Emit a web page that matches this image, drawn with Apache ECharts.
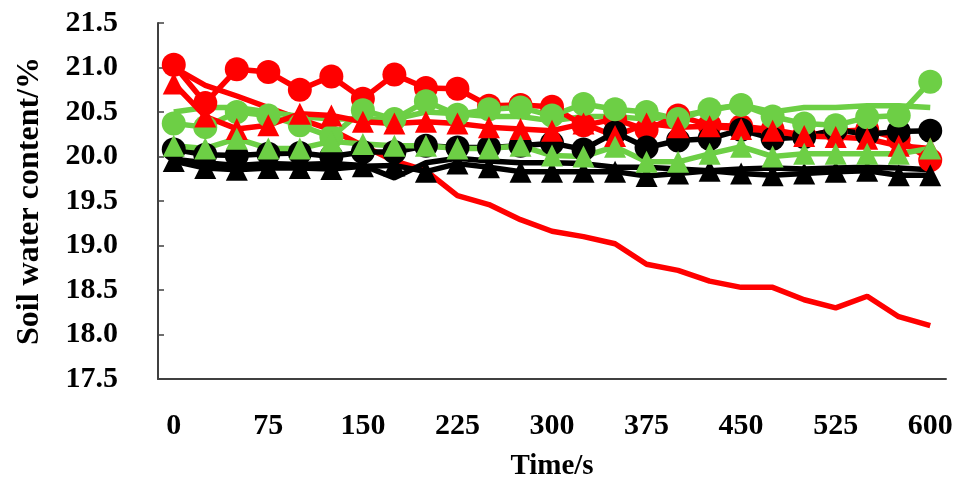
<!DOCTYPE html>
<html>
<head>
<meta charset="utf-8">
<script src="https://cdn.jsdelivr.net/npm/echarts@6/dist/echarts.min.js"></script>
<style>
  html, body { margin: 0; padding: 0; background: #fff; }
  #chart { width: 961px; height: 486px; }
</style>
</head>
<body>
<div id="chart"></div>
<script>
// time points (s)
let times = ['0','25','50','75','100','125','150','175','200','225','250','275','300',
  '325','350','375','400','425','450','475','500','525','550','575','600']

// soil water content (%)
let redCircle = [21.03, 20.6, 20.98, 20.95, 20.75, 20.9, 20.65, 20.92, 20.77, 20.76, 20.57, 20.58, 20.56,
  20.35, 20.42, 20.3, 20.46, 20.35, 20.34, 20.3, 20.24, 20.28, 20.3, 20.2, 19.96]
let redTri = [20.82, 20.45, 20.31, 20.35, 20.48, 20.46, 20.39, 20.37, 20.39, 20.37, 20.33, 20.31, 20.29,
  20.37, 20.23, 20.37, 20.33, 20.34, 20.31, 20.29, 20.23, 20.22, 20.2, 20.12, 20.09]
let redPlain = [21.0, 20.8, 20.68, 20.55, 20.42, 20.3, 20.12, 19.95, 19.84, 19.56, 19.46, 19.29, 19.16,
  19.1, 19.02, 18.79, 18.72, 18.6, 18.53, 18.53, 18.39, 18.3, 18.43, 18.2, 18.1]

let blackCircle = [20.08, 20.02, 20.01, 20.03, 20.04, 20.0, 20.05, 20.05, 20.12, 20.1, 20.1, 20.12, 20.15,
  20.08, 20.27, 20.1, 20.18, 20.2, 20.3, 20.2, 20.22, 20.3, 20.25, 20.28, 20.29]
let blackTri = [19.95, 19.87, 19.85, 19.87, 19.87, 19.86, 19.89, 19.9, 19.83, 19.92, 19.88, 19.83, 19.83,
  19.83, 19.83, 19.78, 19.81, 19.84, 19.81, 19.79, 19.81, 19.83, 19.84, 19.79, 19.79]
let blackPlain = [19.97, 19.93, 19.9, 19.92, 19.91, 19.92, 19.9, 19.76, 19.93, 19.98, 19.95, 19.93, 19.93,
  19.92, 19.88, 19.88, 19.86, 19.84, 19.86, 19.87, 19.86, 19.87, 19.88, 19.87, 19.85]

let greenCircle = [20.37, 20.33, 20.5, 20.46, 20.35, 20.22, 20.52, 20.42, 20.62, 20.47, 20.53, 20.55, 20.46,
  20.59, 20.53, 20.5, 20.42, 20.53, 20.58, 20.45, 20.37, 20.35, 20.44, 20.46, 20.84]
let greenTri = [20.12, 20.09, 20.2, 20.09, 20.09, 20.17, 20.14, 20.12, 20.12, 20.09, 20.09, 20.12, 20.01,
  20.0, 20.11, 19.94, 19.94, 20.03, 20.11, 20.0, 20.03, 20.03, 20.03, 20.03, 20.09]
let greenPlain = [20.5, 20.55, 20.55, 20.5, 20.45, 20.42, 20.42, 20.42, 20.5, 20.48, 20.45, 20.45, 20.4,
  20.45, 20.45, 20.42, 20.45, 20.52, 20.58, 20.5, 20.55, 20.55, 20.57, 20.57, 20.55]

const RED = '#ff0000', BLACK = '#000000', GREEN = '#6dcf45'
const FONT = 'Liberation Serif'

function line(data, color, symbol, size) {
  return {
    type: 'line',
    data: data,
    symbol: symbol,
    symbolSize: size,
    showSymbol: symbol !== 'none',
    showAllSymbol: true, // 每个点都画标记
    lineStyle: { color: color, width: 5.5 },
    itemStyle: { color: color },
    animation: false
  }
}

let myChart = echarts.init(document.getElementById('chart'))

let option = {
  backgroundColor: '#fff',
  grid: { left: 158, right: 15, top: 23, bottom: 103, containLabel: false },
  xAxis: {
    type: 'category',
    data: times,
    boundaryGap: true,
    name: 'Time/s',
    nameLocation: 'middle',
    nameGap: 73,
    nameTextStyle: { fontFamily: FONT, fontWeight: 'bold', fontSize: 29, color: '#000' },
    axisLine: { lineStyle: { color: '#404040', width: 2 } },
    axisTick: { inside: true, length: 6, interval: 0, lineStyle: { color: '#404040', width: 1.5 } },
    axisLabel: {
      interval: 2,
      margin: 32,
      fontFamily: FONT, fontWeight: 'bold', fontSize: 30, color: '#000'
    },
    splitLine: { show: false }
  },
  yAxis: {
    type: 'value',
    min: 17.5,
    max: 21.5,
    interval: 0.5,
    name: 'Soil water content/%',
    nameLocation: 'middle',
    nameGap: 112,
    nameRotate: 90,
    nameTextStyle: { fontFamily: FONT, fontWeight: 'bold', fontSize: 32, color: '#000' },
    axisLine: { show: true, lineStyle: { color: '#404040', width: 2 } },
    axisTick: { show: true, inside: true, length: 6, lineStyle: { color: '#404040', width: 1.5 } },
    axisLabel: {
      margin: 40,
      formatter: v => v.toFixed(1),
      fontFamily: FONT, fontWeight: 'bold', fontSize: 30, color: '#000'
    },
    splitLine: { show: false }
  },
  series: [
    line(redPlain, RED, 'none', 0),
    line(blackPlain, BLACK, 'none', 0),
    line(greenPlain, GREEN, 'none', 0),
    line(redCircle, RED, 'circle', 24),
    line(blackCircle, BLACK, 'circle', 24),
    line(greenCircle, GREEN, 'circle', 24),
    line(redTri, RED, 'triangle', 22),
    line(blackTri, BLACK, 'triangle', 22),
    line(greenTri, GREEN, 'triangle', 22)
  ]
}

myChart.setOption(option)
window.addEventListener('resize', function () {
  myChart.resize()
})
</script>
</body>
</html>
